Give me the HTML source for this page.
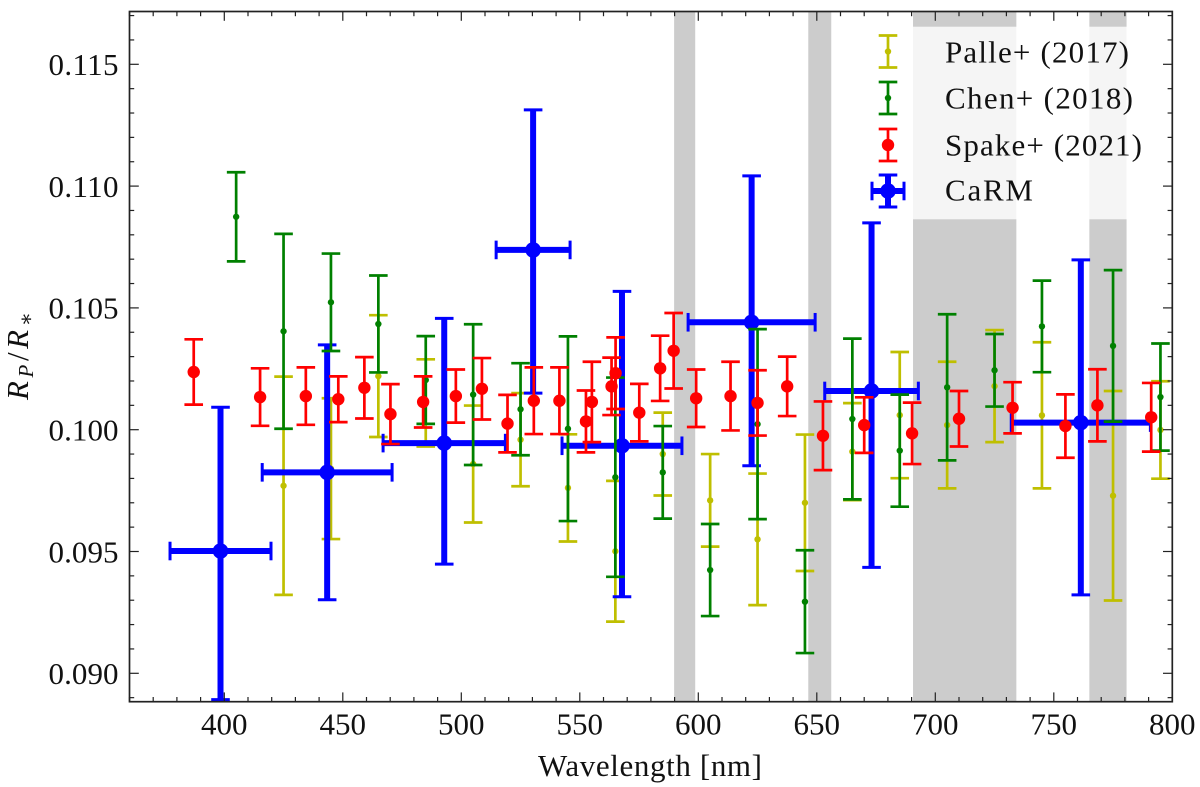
<!DOCTYPE html>
<html lang="en">
<head>
<meta charset="utf-8">
<title>Planet radius ratio versus wavelength</title>
<style>
html,body{margin:0;padding:0;background:#fff;width:1200px;height:787px;overflow:hidden}
svg{display:block}
text{font-family:"Liberation Serif","DejaVu Serif",serif;fill:#111}
</style>
</head>
<body>
<svg id="chart" xmlns="http://www.w3.org/2000/svg" width="1200" height="787" viewBox="0 0 1200 787">
<defs><clipPath id="plot-clip"><rect x="129.5" y="11.5" width="1042.8" height="690.2"/></clipPath></defs>
<rect x="0" y="0" width="1200" height="787" fill="#ffffff"/>
<g id="bands" clip-path="url(#plot-clip)"></g>
<g id="series" clip-path="url(#plot-clip)"></g>
<g id="legend"></g>
<g id="axes"></g>
<text transform="translate(28,400) rotate(-90)" font-size="31" textLength="88"><tspan font-style="italic">R</tspan><tspan font-style="italic" font-size="21" dy="5">P</tspan><tspan dy="-5">/</tspan><tspan font-style="italic">R</tspan><tspan font-size="21" dy="5">∗</tspan></text>
<text x="538" y="776" font-size="31" textLength="224">Wavelength [nm]</text>
</svg>
<script>
// Shaded wavelength bands
const bandStart = [589.8, 646.4, 690.6, 765.0];
const bandEnd = [598.7, 656.1, 734.2, 780.7];

// Palle+ (2017)
const palleWave = [425,445,465,485,505,525,545,565,585,605,625,645,665,685,705,725,745,775,795];
const palleValue = [0.0977,0.0984,0.1022,0.1011,0.09859,0.09959,0.09761,0.09501,0.0990,0.0971,0.0955,0.0970,0.0991,0.1006,0.10019,0.10179,0.10059,0.09729,0.09999];
const palleError = [0.00448,0.00289,0.0025,0.00179,0.0024,0.00191,0.0022,0.00289,0.0017,0.0019,0.0027,0.0028,0.00199,0.00259,0.0026,0.0023,0.0030,0.0043,0.0020];

// Chen+ (2018)
const chenWave = [405,425,445,465,485,505,525,545,565,585,605,625,645,665,685,705,725,745,775,795];
const chenValue = [0.10874,0.10404,0.10523,0.10434,0.10204,0.10144,0.10084,0.10004,0.09805,0.09825,0.09424,0.10023,0.09294,0.10044,0.09914,0.10174,0.10244,0.10424,0.10344,0.10134];
const chenError = [0.00183,0.0040,0.0020,0.00199,0.0018,0.00289,0.00189,0.00379,0.00409,0.0019,0.00189,0.0039,0.00211,0.0033,0.0023,0.0030,0.00149,0.00188,0.00311,0.0022];

// Spake+ (2021)
const spakeWave = [387.1,415.1,434.4,448.1,459.1,470.1,483.9,497.7,508.7,519.5,530.6,541.4,552.6,555.1,563.4,565.1,575.1,583.9,589.6,599.1,613.6,625.0,637.5,652.6,670.0,690.2,710.0,732.6,754.9,768.4,791.1];
const spakeValue = [0.10237,0.10134,0.10138,0.10125,0.10172,0.10064,0.10114,0.10138,0.10168,0.10025,0.10119,0.10119,0.10034,0.10114,0.10178,0.10232,0.1007,0.10252,0.10324,0.10129,0.10138,0.1011,0.10178,0.09975,0.10019,0.09985,0.10045,0.1009,0.10015,0.1010,0.10051];
const spakeError = [0.00134,0.00118,0.00118,0.00094,0.00126,0.00123,0.00105,0.00109,0.00126,0.00118,0.00137,0.00137,0.00127,0.00165,0.00118,0.00147,0.00118,0.00134,0.00155,0.00118,0.00141,0.00134,0.00122,0.00141,0.00114,0.00126,0.00114,0.00105,0.0013,0.00148,0.00141];

// CaRM
const carmWave = [398.4,443.4,492.8,530.3,567.8,622.5,673.1,761.4];
const carmWaveError = [21.3,27.4,25.8,15.6,25.3,26.8,19.75,29.35];
const carmValue = [0.09502,0.09825,0.09945,0.10738,0.09934,0.10441,0.10159,0.10029];
const carmErrorLow = [0.0061,0.00523,0.00497,0.00588,0.0062,0.00589,0.00724,0.00707];
const carmErrorHigh = [0.0059,0.00523,0.00512,0.00575,0.00634,0.00601,0.0069,0.00668];

// Axis ticks and labels
const xTickValues = [400,450,500,550,600,650,700,750,800];
const xTickLabels = ['400','450','500','550','600','650','700','750','800'];
const yTickValues = [0.090,0.095,0.100,0.105,0.110,0.115];
const yTickLabels = ['0.090','0.095','0.100','0.105','0.110','0.115'];

// Legend
const legendLabels = ['Palle+ (2017)','Chen+ (2018)','Spake+ (2021)','CaRM'];

const NS = 'http://www.w3.org/2000/svg';
const PLOT = {left:129.5, right:1172.3, top:11.5, bottom:701.7};
const X_MIN = 360, X_MAX = 800;
const xScale = v => PLOT.left + (v - X_MIN) * (PLOT.right - PLOT.left) / (X_MAX - X_MIN);
const yScale = v => 673.3 - (v - 0.09) * 24360;

function drawLine(parent, name, x1, y1, x2, y2, color, width) {
  const el = document.createElementNS(NS, 'line');
  
  
  el.setAttribute('x1', x1);
  el.setAttribute('y1', y1);
  el.setAttribute('x2', x2);
  el.setAttribute('y2', y2);
  el.setAttribute('stroke', color);
  el.setAttribute('stroke-width', width);
  parent.appendChild(el);
  return el;
}

function drawDot(parent, name, cx, cy, r, color) {
  const el = document.createElementNS(NS, 'circle');
  
  
  el.setAttribute('cx', cx);
  el.setAttribute('cy', cy);
  el.setAttribute('r', r);
  el.setAttribute('fill', color);
  parent.appendChild(el);
  return el;
}

function drawText(parent, name, x, y, content, size, anchor) {
  const el = document.createElementNS(NS, 'text');
  
  
  el.setAttribute('x', x);
  el.setAttribute('y', y);
  el.setAttribute('font-size', size);
  el.setAttribute('text-anchor', anchor);
  el.textContent = content;
  parent.appendChild(el);
  return el;
}

function newGroup(parent, name) {
  const g = document.createElementNS(NS, 'g');
  
  
  parent.appendChild(g);
  return g;
}

// Pixel-space error bar glyph used by both plot marks and legend handles
function drawGlyph(g, name, px, py, top, bottom, style, left, right) {
  if (left !== null) {
    drawLine(g, name + '-x-error', left, py, right, py, style.color, style.line);
    drawLine(g, name + '-x-cap-low', left, py - style.cap, left, py + style.cap, style.color, style.capLine);
    drawLine(g, name + '-x-cap-high', right, py - style.cap, right, py + style.cap, style.color, style.capLine);
  }
  drawLine(g, name + '-y-error', px, top, px, bottom, style.color, style.line);
  drawLine(g, name + '-y-cap-high', px - style.cap, top, px + style.cap, top, style.color, style.capLine);
  drawLine(g, name + '-y-cap-low', px - style.cap, bottom, px + style.cap, bottom, style.color, style.capLine);
  drawDot(g, name + '-marker', px, py, style.r, style.color);
}

function drawSeries(name, wave, value, errLow, errHigh, waveErr, style) {
  const group = newGroup(document.getElementById('series'), name + '-series');
  wave.forEach((w, i) => {
    const g = newGroup(group, name + '-point');
    const px = xScale(w);
    const left = waveErr ? xScale(w - waveErr[i]) : null;
    const right = waveErr ? xScale(w + waveErr[i]) : null;
    drawGlyph(g, name, px, yScale(value[i]), yScale(value[i] + errHigh[i]), yScale(value[i] - errLow[i]), style, left, right);
  });
}

const stylePalle = {color:'#bfbf00', line:2.7, capLine:2.7, cap:9.3, r:3.2};
const styleChen = {color:'#008000', line:2.7, capLine:2.7, cap:9.3, r:3.2};
const styleSpake = {color:'#ff0000', line:2.7, capLine:2.7, cap:9.3, r:6.2};
const styleCarm = {color:'#0000ff', line:6, capLine:3, cap:9.3, r:7.8};

// Bands
const bandsLayer = document.getElementById('bands');
bandStart.forEach((start, i) => {
  const rect = document.createElementNS(NS, 'rect');
  
  
  rect.setAttribute('x', xScale(start));
  rect.setAttribute('y', PLOT.top);
  rect.setAttribute('width', xScale(bandEnd[i]) - xScale(start));
  rect.setAttribute('height', PLOT.bottom - PLOT.top);
  rect.setAttribute('fill', '#cccccc');
  bandsLayer.appendChild(rect);
});

// Series, back to front
drawSeries('palle', palleWave, palleValue, palleError, palleError, null, stylePalle);
drawSeries('carm', carmWave, carmValue, carmErrorLow, carmErrorHigh, carmWaveError, styleCarm);
drawSeries('chen', chenWave, chenValue, chenError, chenError, null, styleChen);
drawSeries('spake', spakeWave, spakeValue, spakeError, spakeError, null, styleSpake);

// Legend
const legendLayer = document.getElementById('legend');
const legendPatch = document.createElementNS(NS, 'rect');


legendPatch.setAttribute('x', 862);
legendPatch.setAttribute('y', 26.7);
legendPatch.setAttribute('width', 290);
legendPatch.setAttribute('height', 192.6);
legendPatch.setAttribute('fill', '#ffffff');
legendPatch.setAttribute('fill-opacity', '0.8');
legendLayer.appendChild(legendPatch);
const legendStyles = [stylePalle, styleChen, styleSpake, styleCarm];
const legendCenter = [51.5, 98, 145, 191];
const legendBaseline = [62.3, 108.5, 155.5, 200.7];
const legendWidths = [184, 188, 197, 88];
legendLabels.forEach((label, i) => {
  const g = newGroup(legendLayer, 'legend-entry');
  const cy = legendCenter[i];
  const isCarm = i === 3;
  drawGlyph(g, 'legend-handle', 888, cy, cy - 16, cy + 16, legendStyles[i], isCarm ? 872 : null, isCarm ? 904 : null);
  const t = drawText(g, 'legend-label', 945, legendBaseline[i], label, 31, 'start');
  t.setAttribute('textLength', legendWidths[i]);
});

// Axes
const axesLayer = document.getElementById('axes');
const TICK = '#222222';
for (let v = 360; v <= 800; v += 10) {
  const px = xScale(v);
  if (xTickValues.indexOf(v) !== -1) continue;
  drawLine(axesLayer, 'x-minor-tick', px, PLOT.bottom, px, PLOT.bottom - 4.7, TICK, 1.2);
  drawLine(axesLayer, 'x-minor-tick-top', px, PLOT.top, px, PLOT.top + 4.7, TICK, 1.2);
}
xTickValues.forEach((v, i) => {
  const px = xScale(v);
  drawLine(axesLayer, 'x-major-tick', px, PLOT.bottom, px, PLOT.bottom - 9.3, TICK, 1.2);
  drawLine(axesLayer, 'x-major-tick-top', px, PLOT.top, px, PLOT.top + 9.3, TICK, 1.2);
  drawText(axesLayer, 'x-tick-label', px, 734.5, xTickLabels[i], 31, 'middle');
});
for (let k = 89; k <= 117; k++) {
  if (k % 5 === 0) continue;
  const py = yScale(k / 1000);
  drawLine(axesLayer, 'y-minor-tick', PLOT.left, py, PLOT.left + 4.7, py, TICK, 1.2);
  drawLine(axesLayer, 'y-minor-tick-right', PLOT.right, py, PLOT.right - 4.7, py, TICK, 1.2);
}
yTickValues.forEach((v, i) => {
  const py = yScale(v);
  drawLine(axesLayer, 'y-major-tick', PLOT.left, py, PLOT.left + 9.3, py, TICK, 1.2);
  drawLine(axesLayer, 'y-major-tick-right', PLOT.right, py, PLOT.right - 9.3, py, TICK, 1.2);
  const t = drawText(axesLayer, 'y-tick-label', 118.5, py + 10.8, yTickLabels[i], 31, 'end');
  t.setAttribute('textLength', 70);
});
const frame = document.createElementNS(NS, 'rect');


frame.setAttribute('x', PLOT.left);
frame.setAttribute('y', PLOT.top);
frame.setAttribute('width', PLOT.right - PLOT.left);
frame.setAttribute('height', PLOT.bottom - PLOT.top);
frame.setAttribute('fill', 'none');
frame.setAttribute('stroke', TICK);
frame.setAttribute('stroke-width', 1.7);
axesLayer.appendChild(frame);
</script>
</body>
</html>
